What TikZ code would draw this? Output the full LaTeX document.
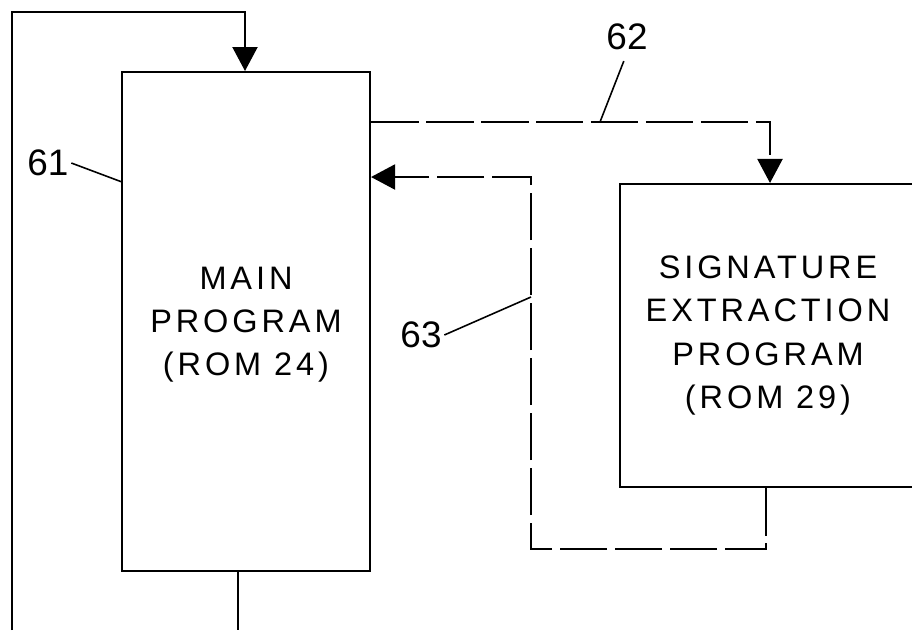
\documentclass[tikz,border=0pt]{standalone}
\usepackage{fontspec}
\setmainfont{Liberation Sans}
\newfontfamily\boxfont[LetterSpace=12]{Liberation Sans}
\usetikzlibrary{arrows.meta}

\begin{document}
\begin{tikzpicture}[x=0.02cm,y=-0.02cm,line width=1.2pt,
  block/.style={draw,rectangle,inner sep=0pt,align=center,
    font=\boxfont\fontsize{18.5}{24.5}\selectfont},
  flow/.style={-{Triangle[length=0.48cm,width=0.5cm]}},
  dashflow/.style={flow,dash pattern=on 0.95cm off 0.15cm},
  tag/.style={font=\fontsize{21}{24}\selectfont,inner sep=1pt},
  leader/.style={line width=0.9pt}]
\clip (0,0) rectangle (912,630);

% the two program blocks
\node[block,minimum width=4.96cm,minimum height=9.98cm] (main) at (246,321.5)
  {\\[-8pt]MAIN\\PROGRAM\\(ROM 24)};
\node[block,minimum width=5.92cm,minimum height=6.06cm] (sig) at (768,335.5)
  {SIGNATURE\\EXTRACTION\\PROGRAM\\(ROM 29)};

% solid loop in and out of the main program
\coordinate (inlow) at (12,630);
\coordinate (top) at (245,12);
\coordinate (outlow) at (238,630);
\draw[flow] (inlow) |- (top) -- (top |- main.north);
\draw (outlow |- main.south) -- (outlow);

% call and return (dashed)
\coordinate (fork) at (770,122);
\coordinate (back) at (766,549);
\coordinate (ret) at (531,177);
\draw[dashflow] (main.east |- fork) -| (fork |- sig.north);
\draw[dashflow] (back |- sig.south) -- (back) -| (ret) -- (ret -| main.east);

% reference numerals
\coordinate (p61) at (122,182);
\coordinate (p62) at (600,122);
\coordinate (p63) at (531,297);
\node[tag] (l61) at (48,163) {61};
\node[tag] (l62) at (627,37) {62};
\node[tag] (l63) at (421,335) {63};
\draw[leader] (l61.east) -- (p61);
\draw[leader,shorten <=5pt] (l62.south) -- (p62);
\draw[leader] (l63.east) -- (p63);
\end{tikzpicture}
\end{document}
